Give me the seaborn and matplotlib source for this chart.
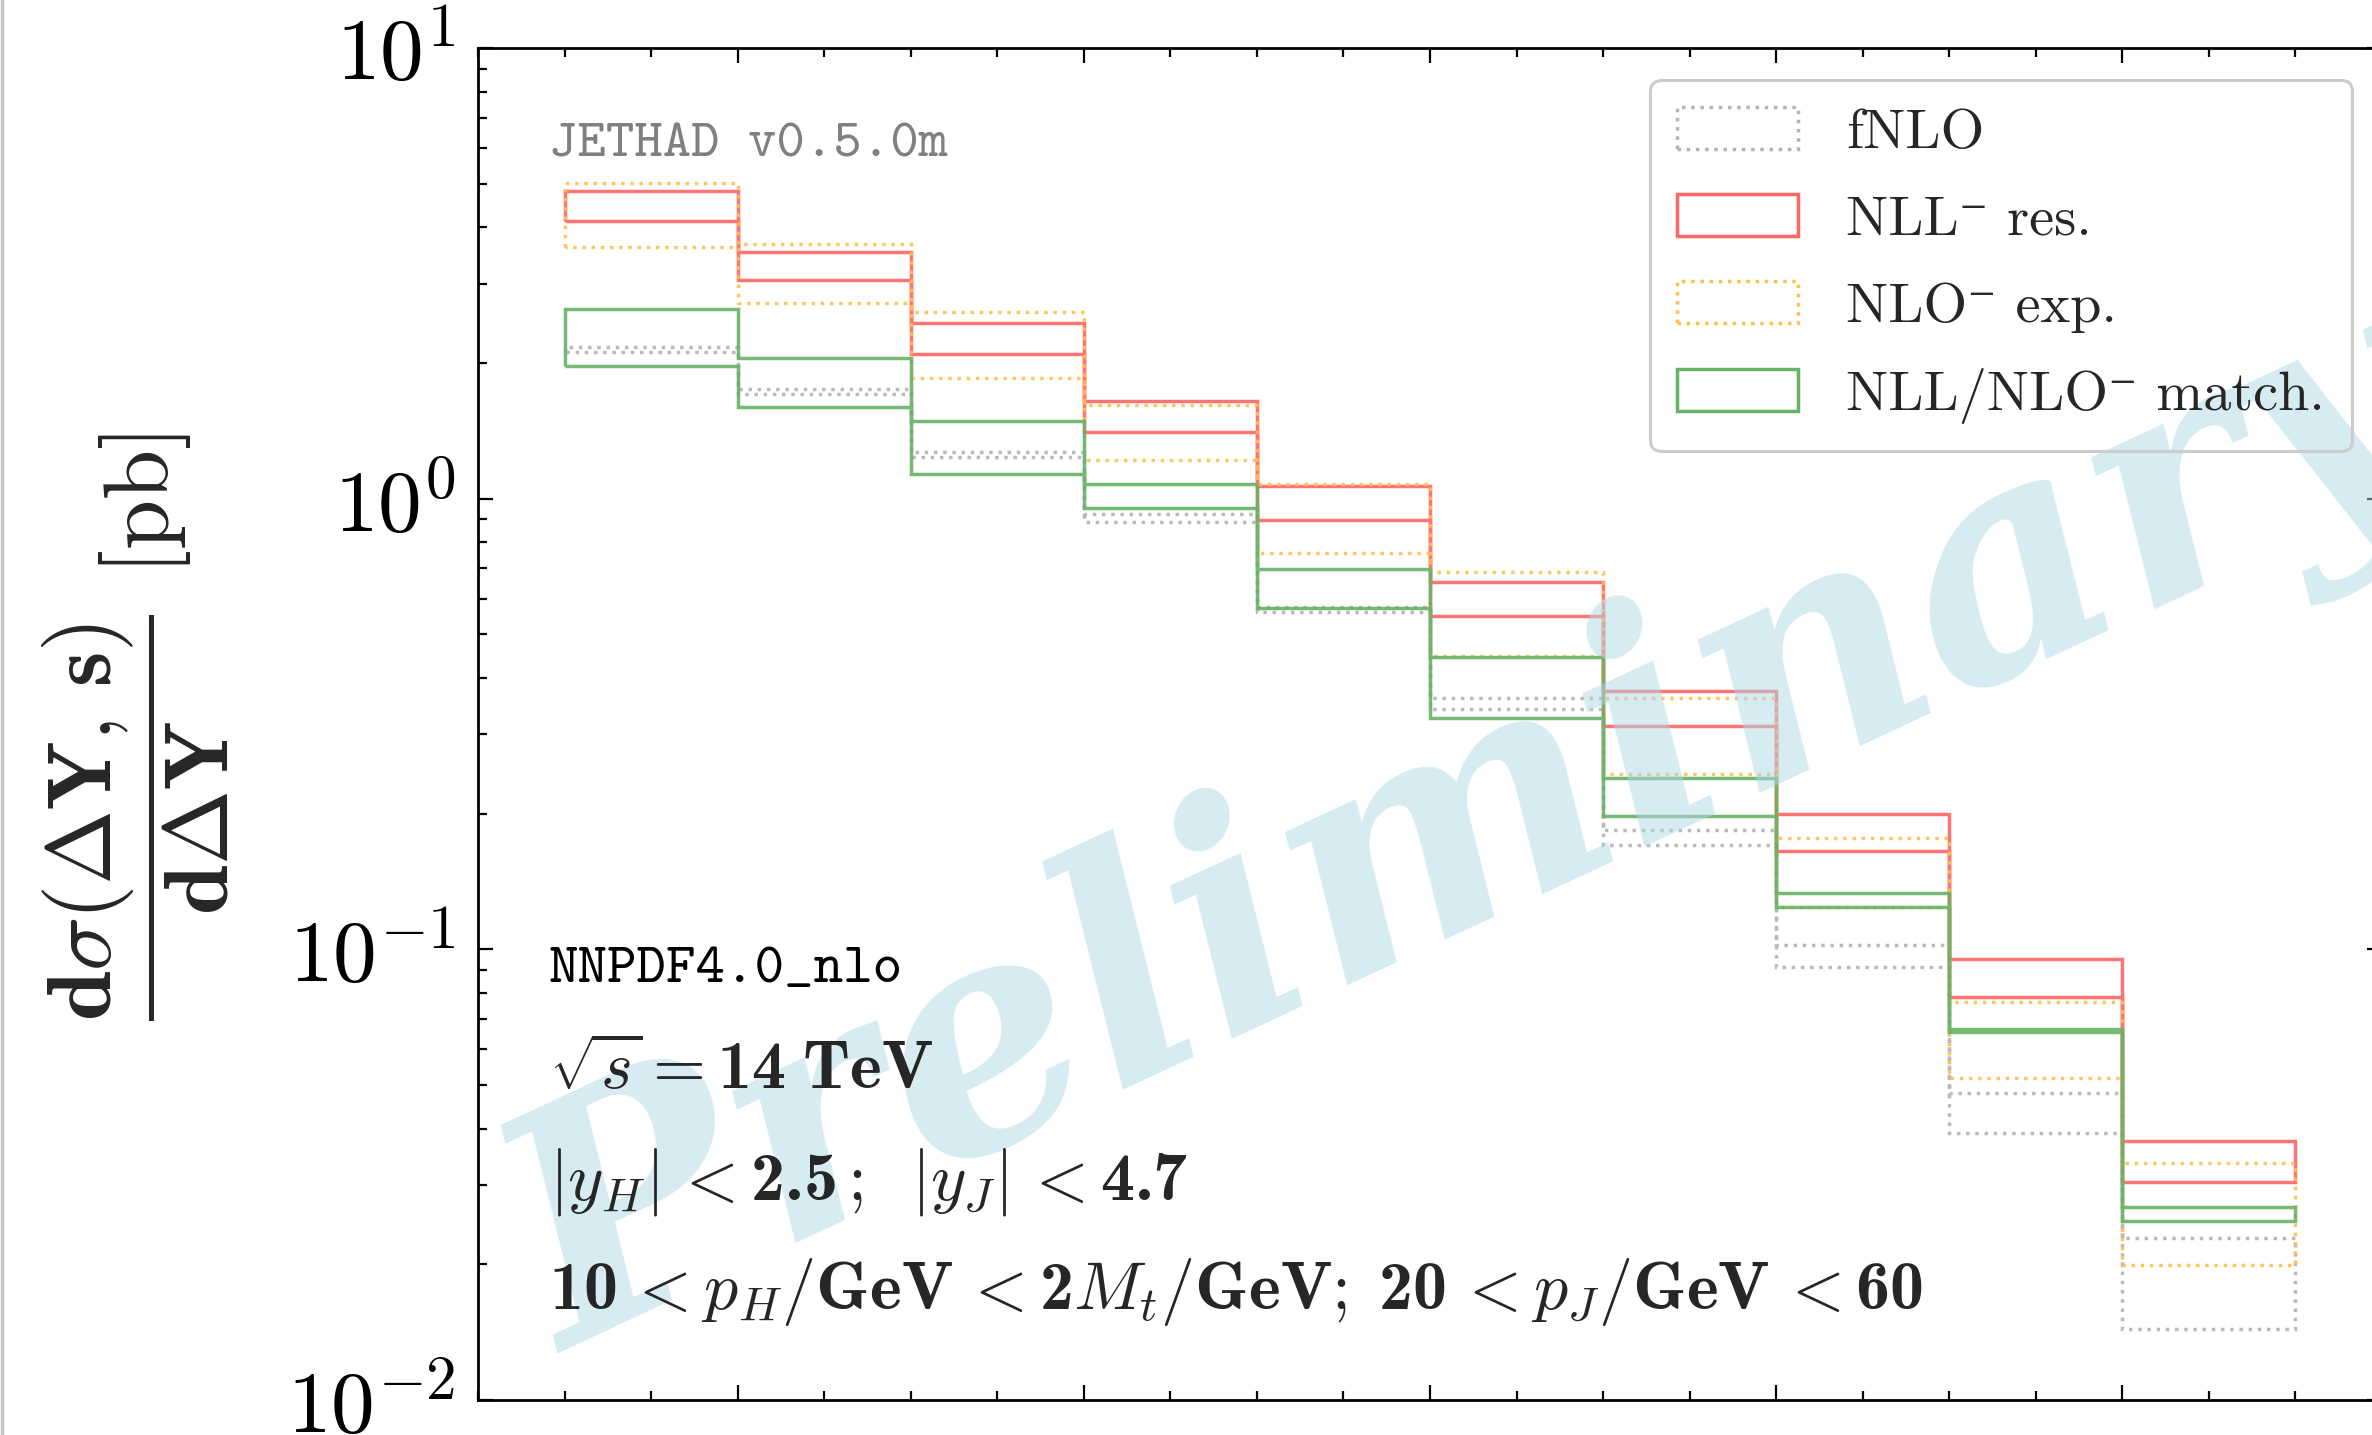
import numpy as np
import pandas as pd
import seaborn as sns
import matplotlib
matplotlib.use("Agg")
import matplotlib.pyplot as plt
import matplotlib.patches as mpatches
from matplotlib.lines import Line2D
from matplotlib.ticker import MultipleLocator, LogLocator, NullFormatter

# ---------------- data ----------------
bin_edges = [0.5, 1.0, 1.5, 2.0, 2.5, 3.0, 3.5, 4.0, 4.5, 5.0, 5.5]

fnlo_hi = [2.17, 1.755, 1.27, 0.927, 0.576, 0.361, 0.184, 0.102, 0.0479, 0.0229]
fnlo_lo = [2.12, 1.71, 1.24, 0.887, 0.560, 0.342, 0.170, 0.0915, 0.0392, 0.01435]

nll_hi = [4.82, 3.53, 2.455, 1.645, 1.066, 0.653, 0.375, 0.1997, 0.0951, 0.0376]
nll_lo = [4.14, 3.05, 2.09, 1.406, 0.895, 0.548, 0.3137, 0.1656, 0.0782, 0.0305]

nlo_hi = [5.01, 3.67, 2.60, 1.61, 1.08, 0.687, 0.361, 0.177, 0.0766, 0.0336]
nlo_lo = [3.61, 2.72, 1.85, 1.216, 0.757, 0.447, 0.245, 0.1243, 0.0517, 0.0199]

match_hi = [2.64, 2.05, 1.49, 1.076, 0.697, 0.445, 0.2396, 0.1334, 0.0665, 0.0268]
match_lo = [1.97, 1.60, 1.137, 0.953, 0.573, 0.326, 0.198, 0.1243, 0.0654, 0.0249]

series_labels = ["fNLO", "NLL\u207b res.", "NLO\u207b exp.", "NLL/NLO\u207b match."]

ytick_values = [1e-2, 1e-1, 1e0, 1e1]
ytick_labels = [r"$10^{-2}$", r"$10^{-1}$", r"$10^{0}$", r"$10^{1}$"]
xtick_major = [1, 2, 3, 4, 5]

# ---------------- style ----------------
sns.set_theme(style="ticks")
plt.rcParams.update({
    "mathtext.fontset": "cm",
    "font.family": ["cmr10", "DejaVu Sans"],
    "axes.edgecolor": "black",
    "axes.linewidth": 2.0,
    "xtick.color": "black",
    "ytick.color": "black",
    "axes.unicode_minus": True,
    "axes.formatter.use_mathtext": True,
})

styles = [
    dict(color="#b3b3b3", linestyle=":"),
    dict(color="#ff6666", linestyle="-"),
    dict(color="#ffc04d", linestyle=":"),
    dict(color="#66b266", linestyle="-"),
]

fig = plt.figure(figsize=(23.72, 14.35), dpi=100)
W, H = 2372.0, 1435.0
ax = fig.add_axes([478 / W, 1 - 1400 / H, (2382 - 478) / W, (1400 - 48) / H])

bands = [(fnlo_hi, fnlo_lo), (nll_hi, nll_lo), (nlo_hi, nlo_lo), (match_hi, match_lo)]
handles = []
for (hi, lo), st, lab in zip(bands, styles, series_labels):
    ax.stairs(np.array(hi), np.array(bin_edges), baseline=np.array(lo), fill=False,
              color=st["color"], linestyle=st["linestyle"], linewidth=2.5, alpha=0.9, zorder=2)
    handles.append(mpatches.Patch(facecolor="none", edgecolor=st["color"],
                                  linestyle=st["linestyle"], linewidth=2.5, label=lab))

ax.set_yscale("log")
ax.set_ylim(1e-2, 1e1)
ax.set_xlim(0.25, 5.75)

ax.set_xticks(xtick_major)
ax.xaxis.set_minor_locator(MultipleLocator(0.25))
ax.set_yticks(ytick_values)
ax.set_yticklabels(ytick_labels)
ax.yaxis.set_minor_locator(LogLocator(base=10, subs=np.arange(2, 10)))
ax.yaxis.set_minor_formatter(NullFormatter())
ax.tick_params(which="both", direction="in", top=True, right=True, labelbottom=False)
ax.tick_params(which="major", length=11, width=1.6)
ax.tick_params(which="minor", length=6.5, width=1.6)
ax.tick_params(axis="y", which="major", labelsize=63, pad=16)

# y label
fig.text(136 / W, 1 - 727 / H,
         r"$\mathbf{\dfrac{d\sigma(\Delta Y,\, s)}{d\Delta Y}}$ [pb]",
         rotation=90, ha="center", va="center", fontsize=65, family="cmr10")

# annotations
ax.text(0.0373, 0.920, "JETHAD v0.5.0m", transform=ax.transAxes, family="cmtt10",
        fontsize=39, color="#808080", va="baseline", ha="left", zorder=4)
ax.text(0.0373, 0.309, "NNPDF4.0_nlo", transform=ax.transAxes, family="cmtt10",
        fontsize=40.5, color="black", va="baseline", ha="left", zorder=4)
bold_kw = dict(transform=ax.transAxes, family="cmb10", fontsize=49,
               va="baseline", ha="left", zorder=4)
ax.text(0.0373, 0.230, r"$\sqrt{s} = \mathdefault{14\;TeV}$", **bold_kw)
ax.text(0.0373, 0.148,
        r"$|y_H|\, < \mathdefault{2.5}\,;\;\;|y_J|\, < \mathdefault{4.7}$", **bold_kw)
ax.text(0.0373, 0.0673,
        r"$\mathdefault{10}\, < p_H/\mathdefault{GeV}\, < \mathdefault{2}M_t/\mathdefault{GeV};\; "
        r"\mathdefault{20}\, < p_J/\mathdefault{GeV}\, < \mathdefault{60}$", **bold_kw)

# watermark (inside the axes, above the bands, below texts and legend)
ax.text(1475 / W, 1 - 835 / H, "Preliminary", transform=fig.transFigure,
        family="DejaVu Serif", fontweight="bold", fontstyle="italic", fontsize=228,
        color="lightblue", alpha=0.5, rotation=25, ha="center", va="center",
        rotation_mode="anchor", zorder=3, clip_on=False)

# legend
leg = ax.legend(handles=handles, loc="upper right", bbox_to_anchor=(0.9842, 0.9763),
                borderaxespad=0.0, prop={"family": ["cmr10", "DejaVu Sans"], "size": 40.5},
                handlelength=2.15, handleheight=0.77, handletextpad=0.85,
                labelspacing=0.63, borderpad=0.48, frameon=True, fancybox=True,
                facecolor="none", edgecolor="#cccccc", framealpha=1.0)
leg.get_frame().set_linewidth(2.2)
leg.set_zorder(6)

# left border line of the picture
fig.add_artist(Line2D([0.0008, 0.0008], [0, 1], transform=fig.transFigure,
                      color="#c4c4c4", linewidth=2.5))

fig.savefig("out.png", dpi=100)
